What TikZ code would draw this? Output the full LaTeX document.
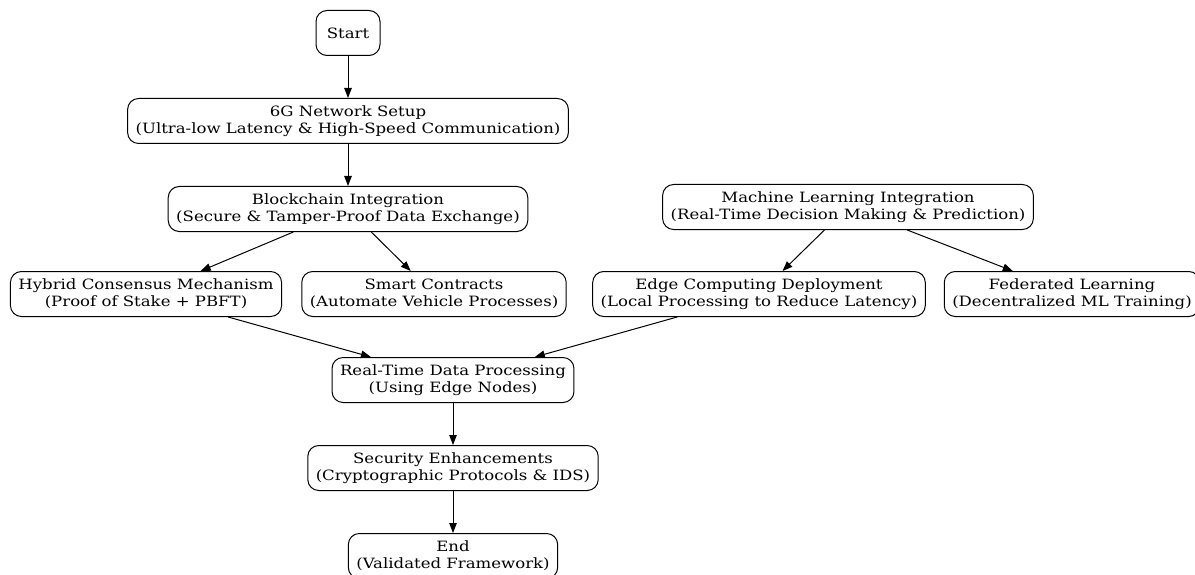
\documentclass[tikz,border=0pt]{standalone}
\usepackage{fontspec}
\setmainfont[FakeStretch=1.165]{DejaVu Serif}
\usetikzlibrary{arrows.meta, positioning}

\begin{document}
\begin{tikzpicture}[
  x=1pt, y=1pt,
  node distance=42pt,
  box/.style={
    draw,
    rounded corners=11pt,
    minimum height=45pt,
    inner xsep=8pt,
    align=center,
    font=\fontsize{14.2}{16.6}\selectfont,
    line width=1pt
  },
  line width=1pt,
  -{Triangle[length=10pt, width=7.5pt]}
]
\useasboundingbox (0,0) rectangle (1195,-575);

% Main column
\node[box, minimum width=64pt] (start) at (348,-33) {Start};
\node[box, below=of start] (setup) {6G Network Setup \\ (Ultra-low Latency \& High-Speed Communication)};
\node[box, below=of setup] (chain) {Blockchain Integration \\ (Secure \& Tamper-Proof Data Exchange)};

% Machine learning branch
\node[box] (ml) at (848,-207) {Machine Learning Integration \\ (Real-Time Decision Making \& Prediction)};

% Third row
\node[box] (hybrid) at (146,-294) {Hybrid Consensus Mechanism \\ (Proof of Stake + PBFT)};
\node[box] (smart) at (434,-294) {Smart Contracts \\ (Automate Vehicle Processes)};
\node[box] (edge) at (759,-294) {Edge Computing Deployment \\ (Local Processing to Reduce Latency)};
\node[box] (fed) at (1072,-294) {Federated Learning \\ (Decentralized ML Training)};

% Lower column
\node[box] (rtdp) at (453,-380) {Real-Time Data Processing \\ (Using Edge Nodes)};
\node[box, below=of rtdp] (sec) {Security Enhancements \\ (Cryptographic Protocols \& IDS)};
\node[box, below=of sec] (finish) {End \\ (Validated Framework)};

% Arrows
\draw (start) -- (setup);
\draw (setup) -- (chain);
\draw (chain) -- (hybrid);
\draw (chain) -- (smart);
\draw (ml) -- (edge);
\draw (ml) -- (fed);
\draw (hybrid) -- (rtdp);
\draw (edge) -- (rtdp);
\draw (rtdp) -- (sec);
\draw (sec) -- (finish);

\end{tikzpicture}
\end{document}
